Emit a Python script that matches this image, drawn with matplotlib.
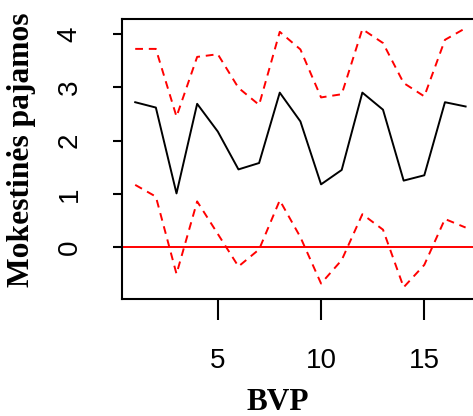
import matplotlib
matplotlib.use("Agg")
import matplotlib.pyplot as plt

# BVP index and estimates
bvp = list(range(1, 18))
fit = [2.72, 2.62, 1.01, 2.69, 2.17, 1.46, 1.58, 2.90, 2.36,
       1.18, 1.45, 2.90, 2.58, 1.25, 1.35, 2.72, 2.64]
upper = [3.72, 3.72, 2.45, 3.57, 3.62, 2.99, 2.67, 4.04, 3.71,
         2.81, 2.87, 4.09, 3.83, 3.08, 2.83, 3.89, 4.11]
lower = [1.17, 0.95, -0.50, 0.86, 0.25, -0.36, -0.04, 0.88, 0.19,
         -0.68, -0.24, 0.62, 0.33, -0.75, -0.33, 0.53, 0.37]
xticks = [5, 10, 15]
yticks = [0, 1, 2, 3, 4]

fig = plt.figure(figsize=(4.73, 4.16), dpi=100)
ax = fig.add_axes([0.2579, 0.28125, 0.7544, 0.673])

ax.plot(bvp, fit, color="black", lw=1.4)
ax.plot(bvp, upper, color="red", lw=1.4, dashes=(4, 3))
ax.plot(bvp, lower, color="red", lw=1.4, dashes=(4, 3))
ax.axhline(0, color="red", lw=1.4)

ax.set_xlim(0.36, 17.64)
ax.set_ylim(-0.97, 4.28)
ax.set_xticks(xticks)
ax.set_yticks(yticks)

for s in ax.spines.values():
    s.set_linewidth(1.5)

ax.tick_params(axis="x", length=15, width=1.5, pad=20, labelsize=20)
ax.tick_params(axis="y", length=6.5, width=1.5, pad=22, labelsize=20,
               labelrotation=90)
for lab in ax.get_xticklabels() + ax.get_yticklabels():
    lab.set_family("Liberation Sans")
for lab in ax.get_yticklabels():
    lab.set_va("center")

fig.text(278 / 473, 1 - 403 / 416, "BVP", family="Liberation Serif",
         weight="bold", fontsize=22.5, ha="center", va="center")
fig.text(22 / 473, 1 - 150 / 416, "Mokestinės pajamos", family="Liberation Serif",
         weight="bold", fontsize=22.7, ha="center", va="center", rotation=90)

fig.savefig("out.png", dpi=100)
